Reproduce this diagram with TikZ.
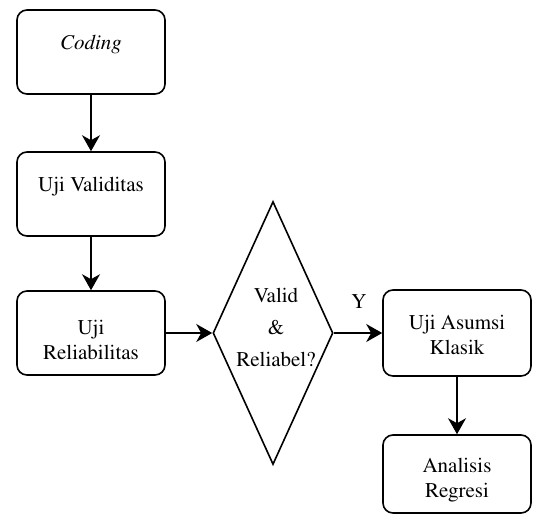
\documentclass[tikz,border=0pt]{standalone}
\usepackage[T1]{fontenc}
\usepackage{times}
\usetikzlibrary{arrows.meta,shapes.geometric}
\begin{document}
\begin{tikzpicture}[x=1pt,y=-1pt,
  box/.style={draw,line width=1.6pt,rounded corners=10pt,minimum width=148pt,minimum height=84pt,inner sep=0pt},
  txt/.style={font=\fontsize{21}{25}\selectfont,align=center,inner sep=0pt},
  arr/.style={line width=1.6pt,-{Stealth[length=16pt,width=18pt,inset=5pt]}}]
\useasboundingbox (0,0) rectangle (533,515);
\node[box] (coding) at (91,52) {};
\node[txt] (codingt) at (91,45) {\textit{Coding}};
\node[box] (valid) at (91,194) {};
\node[txt] (validt) at (91,187) {Uji Validitas};
\node[box] (rel) at (91,333) {};
\node[txt] (relt) at (91,340) {Uji\\Reliabilitas};
\node[draw,diamond,line width=1.6pt,minimum width=120pt,minimum height=263pt,inner sep=0pt] (dec) at (273,333) {};
\node[txt,font=\fontsize{21}{32}\selectfont] (dect) at (276,327) {Valid\\\&\\Reliabel?};
\node[box,minimum height=86pt] (asum) at (457,333) {};
\node[txt] (asumt) at (457,335) {Uji Asumsi\\Klasik};
\node[box,minimum height=78pt] (anal) at (457,474) {};
\node[txt] (analt) at (457,480) {Analisis\\Regresi};
\node[txt] (ylab) at (359,302) {Y};
\draw[arr] (coding) -- (valid);
\draw[arr] (valid) -- (rel);
\draw[arr] (rel.east) -- (dec.west);
\draw[arr] (dec.east) -- (asum.west);
\draw[arr] (asum) -- (anal);
\end{tikzpicture}
\end{document}
